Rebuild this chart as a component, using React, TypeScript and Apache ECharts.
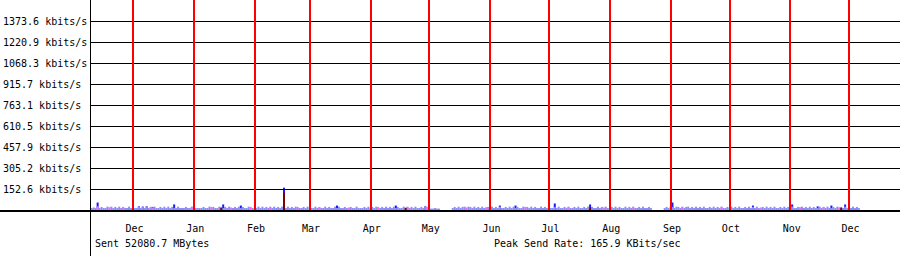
import React, { useEffect, useRef } from "react";
import * as echarts from "echarts";

// Day 0 = Dec 1; one value per day from day -21 (Nov 10) onwards
const firstDay = -21;
const baseVals: number[] = [
  18, 22, 18, 28, 18, 26, 18, 18, 28, 18, 28, 18, 26, 18, 28, 18, 26, 18, 18, 28, 18, 0, 18, 18, 28, 18, 28, 18,
  28, 18, 26, 18, 28, 18, 18, 26, 18, 28, 18, 28, 18, 26, 18, 18, 28, 18, 18, 18, 26, 18, 18, 28, 18, 18, 18, 18,
  18, 26, 18, 18, 28, 18, 26, 18, 18, 28, 18, 18, 26, 18, 28, 18, 18, 26, 18, 28, 18, 26, 18, 18, 28, 18, 18, 18,
  18, 28, 18, 28, 18, 26, 18, 28, 18, 28, 18, 26, 18, 28, 18, 18, 28, 18, 26, 18, 28, 18, 18, 18, 26, 18, 28, 18,
  18, 18, 28, 18, 26, 18, 18, 28, 18, 26, 18, 18, 28, 18, 28, 18, 18, 26, 18, 18, 26, 18, 18, 28, 18, 18, 18, 26,
  18, 28, 18, 26, 18, 28, 18, 18, 26, 18, 28, 18, 26, 18, 28, 18, 26, 18, 18, 28, 18, 28, 18, 26, 18, 28, 18, 18,
  26, 18, 28, 18, 18, 14, 14, 18, 14, 14, 0, 0, 0, 0, 0, 0, 18, 26, 18, 28, 18, 26, 28, 18, 28, 26, 18, 28,
  18, 26, 18, 28, 18, 18, 26, 18, 28, 18, 26, 18, 28, 18, 18, 26, 18, 28, 18, 28, 18, 26, 18, 18, 28, 18, 26, 18,
  28, 18, 26, 18, 18, 28, 18, 26, 18, 28, 18, 18, 26, 18, 28, 18, 18, 26, 18, 28, 18, 18, 26, 18, 28, 18, 18, 26,
  18, 28, 18, 26, 18, 18, 28, 18, 26, 18, 28, 18, 18, 26, 18, 28, 18, 26, 18, 18, 28, 18, 26, 18, 28, 18, 18, 26,
  18, 28, 18, 18, 26, 18, 0, 0, 0, 0, 0, 0, 18, 26, 18, 28, 26, 18, 28, 26, 18, 28, 18, 26, 28, 18, 26, 18,
  28, 18, 26, 18, 28, 18, 18, 26, 18, 28, 18, 26, 18, 28, 18, 18, 26, 18, 28, 18, 26, 18, 28, 18, 18, 26, 18, 28,
  18, 26, 18, 28, 18, 18, 26, 18, 28, 18, 26, 18, 28, 18, 18, 26, 18, 28, 18, 26, 18, 28, 18, 18, 26, 18, 28, 18,
  26, 18, 28, 18, 26, 18, 18, 28, 18, 26, 18, 28, 18, 18, 26, 18, 28, 18, 26, 18, 28, 18, 26, 18, 28, 18, 26, 18,
];

// [day, kbits/s]
const blueSpikes: [number, number][] = [
  [-18, 58], [3, 30], [5, 28], [7, 30], [10, 26], [21, 44], [46, 44], [55, 36], [77, 165.9],
  [104, 36], [134, 36], [149, 30], [187, 36], [195, 36], [215, 51], [233, 44], [275, 58],
  [316, 36], [336, 44], [349, 30], [356, 36], [363, 44],
];
const pinkBars: [number, number][] = [
  [-18, 30], [-12, 24], [-5, 26], [10, 22], [30, 24], [40, 26], [50, 22], [60, 26], [70, 24],
  [84, 26], [95, 24], [110, 22], [125, 26], [140, 24], [150, 26], [170, 22], [180, 24], [200, 26],
  [222, 24], [240, 22], [255, 26], [280, 24], [300, 26], [320, 22], [340, 24], [352, 26], [360, 24],
];
const maroonBars: [number, number][] = [[45, 22], [77, 130], [139, 20], [233, 22], [361, 20]];

const monthDays = [0, 31, 62, 90, 121, 151, 182, 212, 243, 274, 304, 335, 365];
const monthLabels = ["Dec", "Jan", "Feb", "Mar", "Apr", "May", "Jun", "Jul", "Aug", "Sep", "Oct", "Nov", "Dec"];
const yTickValues = [152.6, 305.2, 457.9, 610.5, 763.1, 915.7, 1068.3, 1220.9, 1373.6];
const yUnit = "kbits/s";
const sentText = "Sent 52080.7 MBytes";
const peakText = "Peak Send Rate: 165.9 KBits/sec";

const FONT = "DejaVu Sans Mono";

export default function App() {
  const ref = useRef<HTMLDivElement>(null);
  useEffect(() => {
    document.body.style.margin = "0";
    if (!ref.current) return;
    const chart = echarts.init(ref.current, null, { renderer: "svg" });
    const k = 717 / 365;
    const barCommon = { barWidth: 2, barGap: "-100%", silent: true };
    chart.setOption({
      animation: false,
      backgroundColor: "#ffffff",
      grid: { left: 90, right: 0, top: 0, bottom: 45.5 },
      xAxis: {
        type: "value",
        min: -42 / k,
        max: 768 / k,
        axisLine: { show: false },
        axisTick: { show: false },
        splitLine: { show: false },
        axisLabel: {
          customValues: monthDays,
          formatter: (v: number) => monthLabels[monthDays.indexOf(v)] ?? "",
          fontFamily: FONT,
          fontSize: 10,
          color: "#000",
          margin: 18,
          verticalAlign: "middle",
          padding: [0, 0, 0, 3],
        },
      },
      yAxis: {
        type: "value",
        min: 0,
        max: 1529.6,
        axisLine: { show: false },
        axisTick: { show: false },
        splitLine: { show: false },
        axisLabel: {
          customValues: yTickValues,
          formatter: (v: number) => `${v.toFixed(1)} ${yUnit}`,
          fontFamily: FONT,
          fontSize: 10,
          color: "#000",
          align: "left",
          margin: 88,
        },
      },
      series: [
        {
          type: "bar",
          ...barCommon,
          data: blueSpikes,
          itemStyle: { color: "#1a1aff" },
          z: 2,
          markLine: {
            silent: true,
            symbol: ["none", "none"],
            label: { show: false },
            animation: false,
            data: [
              ...yTickValues.map((v) => ({ yAxis: v, lineStyle: { color: "#000", width: 1, type: "solid" } })),
            ],
          },
        },
        {
          type: "bar",
          ...barCommon,
          data: baseVals.map((v, i) => [firstDay + i, v]),
          itemStyle: { color: "#8c8cff" },
          z: 3,
        },
        {
          type: "bar",
          ...barCommon,
          data: pinkBars,
          itemStyle: { color: "#ff66ff" },
          z: 4,
        },
        {
          type: "bar",
          ...barCommon,
          data: maroonBars,
          itemStyle: { color: "#800000" },
          z: 5,
          markLine: {
            silent: true,
            symbol: ["none", "none"],
            label: { show: false },
            animation: false,
            data: monthDays.map((d) => ({ xAxis: d, lineStyle: { color: "#ff0000", width: 2, type: "solid" } })),
          },
        },
      ],
      graphic: [
        { type: "line", shape: { x1: 90.5, y1: 0, x2: 90.5, y2: 256 }, style: { stroke: "#000", lineWidth: 1 }, z: 100 },
        { type: "line", shape: { x1: 0, y1: 211, x2: 900, y2: 211 }, style: { stroke: "#000", lineWidth: 2 }, z: 100 },
        {
          type: "text",
          x: 95,
          y: 243.5,
          style: { text: sentText, fontFamily: FONT, fontSize: 10, fill: "#000", verticalAlign: "middle", align: "left" },
        },
        {
          type: "text",
          x: 494,
          y: 243.5,
          style: { text: peakText, fontFamily: FONT, fontSize: 10, fill: "#000", verticalAlign: "middle", align: "left" },
        },
      ],
    });
    return () => chart.dispose();
  }, []);
  return <div ref={ref} style={{ width: 900, height: 256 }} />;
}
